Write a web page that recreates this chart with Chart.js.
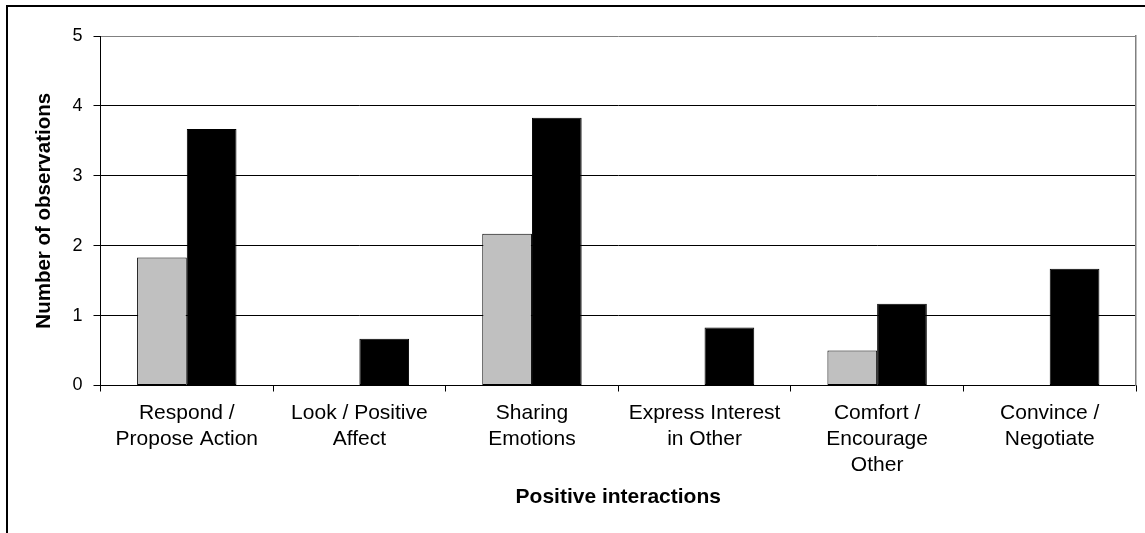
<!DOCTYPE html>
<html>
<head>
<meta charset="utf-8">
<script src="https://cdn.jsdelivr.net/npm/chart.js@4/dist/chart.umd.min.js"></script>
<style>
  html, body { margin: 0; padding: 0; background: #fff; }
  #wrap { position: relative; width: 1145px; height: 533px; }
  #frame { position: absolute; left: 6px; top: 5px; right: 0; bottom: 0;
           border-left: 2px solid #000; border-top: 2px solid #000; pointer-events: none; }
</style>
</head>
<body>
<div id="wrap">
  <canvas id="chart_canvas" width="1145" height="533"></canvas>
  <div id="frame"></div>
</div>
<script>
// observations averaged over six sessions
let categories = [
  ['Respond /', 'Propose Action'],
  ['Look / Positive', 'Affect'],
  ['Sharing', 'Emotions'],
  ['Express Interest', 'in Other'],
  ['Comfort /', 'Encourage', 'Other'],
  ['Convince /', 'Negotiate']
];
let grey_values = [1.83, 0, 2.17, 0, 0.5, 0];
let black_values = [3.67, 0.67, 3.83, 0.83, 1.17, 1.67];
let y_ticks = [0, 1, 2, 3, 4, 5];

let ctx = document.getElementById('chart_canvas');
Chart.defaults.font.family = '"Liberation Sans", Arial, sans-serif';
Chart.defaults.color = '#000';

let positive_chart = new Chart(ctx, { // eslint-disable-line no-unused-vars
  type: 'bar',
  data: {
    labels: categories,
    datasets: [{
      label: 'Series 1',
      data: grey_values,
      backgroundColor: '#C0C0C0',
      borderColor: '#000',
      borderWidth: 1,
      borderSkipped: false
    }, {
      label: 'Series 2',
      data: black_values,
      backgroundColor: '#000',
      borderColor: '#000',
      borderWidth: 1,
      borderSkipped: false
    }]
  },
  options: {
    responsive: false,
    animation: false,
    events: [],
    layout: { padding: { left: 0, right: 9, top: 36, bottom: 0 } },
    plugins: { legend: { display: false }, tooltip: { enabled: false } },
    datasets: { bar: { categoryPercentage: 0.576, barPercentage: 1.0 } },
    scales: {
      x: {
        grid: {
          offset: true,
          drawOnChartArea: false,
          color: '#000',
          tickLength: 6,
          lineWidth: 1
        },
        border: { color: '#000', width: 1 },
        ticks: {
          autoSkip: false,
          maxRotation: 0,
          minRotation: 0,
          padding: 9,
          font: { size: 21, lineHeight: 1.23 }
        },
        title: {
          display: true,
          text: 'Positive interactions',
          font: { size: 21, weight: 'bold' },
          padding: { top: 0, bottom: 23 }
        },
        afterFit: (scale) => { scale.height = 533 - 385.5; }
      },
      y: {
        min: 0,
        max: 5,
        afterBuildTicks: (scale) => { scale.ticks = y_ticks.map((v) => ({ value: v })); },
        grid: {
          color: (c) => (c.tick && c.tick.value === 5 ? '#808080' : '#000'),
          tickColor: '#000',
          tickLength: 7,
          lineWidth: 1
        },
        border: { color: '#000', width: 1 },
        ticks: { padding: 11, font: { size: 18 } },
        title: {
          display: true,
          text: 'Number of observations',
          font: { size: 20.5, weight: 'bold' },
          padding: { top: 32, bottom: 0 }
        },
        afterFit: (scale) => { scale.width = 100.5; }
      },
      // grey closing line on the right side of the plot area
      y_right: {
        position: 'right',
        min: 0,
        max: 5,
        grid: { display: false },
        ticks: { display: false },
        border: { display: true, color: '#808080', width: 1.5 },
        afterFit: (scale) => { scale.width = 0; }
      }
    }
  }
});
</script>
</body>
</html>
